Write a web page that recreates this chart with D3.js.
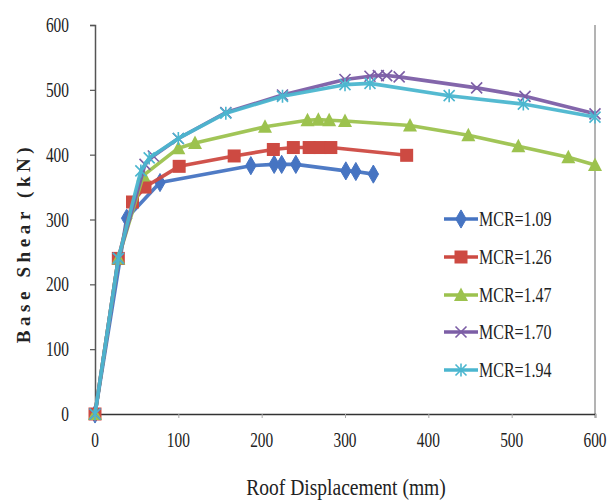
<!DOCTYPE html>
<html>
<head>
<meta charset="utf-8">
<script src="https://cdn.jsdelivr.net/npm/d3@7"></script>
<style>
  html, body { margin: 0; padding: 0; background: #fff; }
  svg { display: block; }
</style>
</head>
<body>
<svg id="chart" width="610" height="500"></svg>
<script>
// ---- data ----
const seriesNames = ["MCR=1.09", "MCR=1.26", "MCR=1.47", "MCR=1.70", "MCR=1.94"];

const disp109  = [0, 38, 78, 187, 215, 224, 241, 301, 313, 334];
const shear109 = [0, 302, 357, 383, 385, 385, 385, 375, 374, 370];

const disp126  = [0, 28, 45, 60, 101, 167, 214, 238, 257, 270, 283, 374];
const shear126 = [0, 240, 327, 350, 382, 398, 408, 411, 411, 411, 411, 399];

const disp147  = [0, 28, 58, 100, 120, 204, 255, 268, 281, 300, 378, 448, 508, 568, 600];
const shear147 = [0, 240, 368, 410, 418, 443, 453, 454, 453, 452, 445, 430, 413, 396, 384];

const disp170  = [0, 28, 60, 70, 100, 157, 225, 300, 330, 340, 350, 365, 458, 516, 600];
const shear170 = [0, 240, 385, 398, 425, 465, 492, 516, 521, 522, 522, 520, 503, 490, 463];

const disp194  = [0, 28, 55, 65, 100, 157, 225, 300, 330, 425, 514, 600];
const shear194 = [0, 240, 375, 395, 425, 464, 490, 508, 510, 491, 478, 458];

const xTicks = [0, 100, 200, 300, 400, 500, 600];
const yTicks = [0, 100, 200, 300, 400, 500, 600];

const colors  = ["#4674c2", "#cd4a42", "#9cc24e", "#7c5ea6", "#4bb6cf"];
const markers = ["diamond", "square", "triangle", "cross", "star"];

const seriesData = [
  [disp109, shear109],
  [disp126, shear126],
  [disp147, shear147],
  [disp170, shear170],
  [disp194, shear194]
].map(([xs, ys], i) => ({
  name: seriesNames[i],
  color: colors[i],
  marker: markers[i],
  points: xs.map((xv, j) => ({ x: xv, y: ys[j] }))
}));

// ---- layout ----
const svg = d3.select("#chart");
const plotL = 95, plotR = 595, plotT = 25, plotB = 414;
const x = d3.scaleLinear().domain([0, 600]).range([plotL, plotR]);
const y = d3.scaleLinear().domain([0, 600]).range([plotB, plotT]);
const serif = "'Liberation Serif', 'Times New Roman', serif";

// right border
svg.append("line")
  .attr("x1", plotR).attr("x2", plotR).attr("y1", plotT).attr("y2", plotB)
  .attr("stroke", "#9a9a9a").attr("stroke-width", 1.5);

// y axis
const yAxis = svg.append("g").attr("transform", `translate(${plotL},0)`)
  .call(d3.axisLeft(y).tickValues(yTicks).tickSize(5).tickFormat(""));
yAxis.select(".domain").attr("stroke", "#555").attr("stroke-width", 1.5);
yAxis.selectAll(".tick line").attr("stroke", "#555").attr("stroke-width", 1.2);

// x axis
const xAxis = svg.append("g").attr("transform", `translate(0,${plotB})`)
  .call(d3.axisBottom(x).tickValues(xTicks).tickSize(4).tickFormat(""));
xAxis.select(".domain").attr("stroke", "#333").attr("stroke-width", 1.6);
xAxis.selectAll(".tick line").attr("stroke", "#aaa").attr("stroke-width", 1);

// tick labels (condensed serif look)
const sx = 0.7;
yTicks.forEach(v => {
  svg.append("g").attr("transform", `translate(69,${y(v) + 7}) scale(${sx},1)`)
    .append("text").attr("text-anchor", "end")
    .attr("font-family", serif).attr("font-size", 22).attr("fill", "#222")
    .text(v);
});
xTicks.forEach(v => {
  svg.append("g").attr("transform", `translate(${x(v)},${447}) scale(${sx},1)`)
    .append("text").attr("text-anchor", "middle")
    .attr("font-family", serif).attr("font-size", 22).attr("fill", "#222")
    .text(v);
});

// axis titles
svg.append("g").attr("transform", "translate(346,495) scale(0.85,1)")
  .append("text").attr("text-anchor", "middle")
  .attr("font-family", serif).attr("font-size", 23).attr("fill", "#222")
  .text("Roof Displacement (mm)");

svg.append("text")
  .attr("transform", `translate(30,243) rotate(-90)`)
  .attr("text-anchor", "middle")
  .attr("font-family", serif).attr("font-size", 19).attr("font-weight", "bold")
  .attr("letter-spacing", 4.6).attr("fill", "#222")
  .text("Base Shear (kN)");

// ---- marker drawing ----
function drawMarker(g, type, color) {
  if (type === "diamond") {
    g.append("path").attr("d", d3.symbol(d3.symbolDiamond, 95)())
      .attr("fill", color).attr("stroke", color).attr("stroke-width", 1);
  } else if (type === "square") {
    g.append("rect").attr("x", -6.5).attr("y", -6.5).attr("width", 13).attr("height", 13)
      .attr("fill", color);
  } else if (type === "triangle") {
    g.append("path").attr("d", "M0,-7.5 L7,6 L-7,6 Z").attr("fill", color);
  } else if (type === "cross") {
    g.append("path").attr("d", "M-5.5,-5.5 L5.5,5.5 M-5.5,5.5 L5.5,-5.5")
      .attr("stroke", color).attr("stroke-width", 1.6).attr("fill", "none");
  } else if (type === "star") {
    g.append("path").attr("d", "M-5.5,-5.5 L5.5,5.5 M-5.5,5.5 L5.5,-5.5 M0,-6.5 L0,6.5")
      .attr("stroke", color).attr("stroke-width", 1.6).attr("fill", "none");
  }
}

// ---- series ----
const line = d3.line().x(d => x(d.x)).y(d => y(d.y));
seriesData.forEach(s => {
  const g = svg.append("g");
  g.append("path").datum(s.points)
    .attr("d", line).attr("fill", "none")
    .attr("stroke", s.color).attr("stroke-width", 3.6)
    .attr("stroke-linejoin", "round").attr("stroke-opacity", 0.95);
  g.selectAll("g.m").data(s.points).enter().append("g")
    .attr("class", "m")
    .attr("transform", d => `translate(${x(d.x)},${y(d.y)})`)
    .each(function () { drawMarker(d3.select(this), s.marker, s.color); });
});

// ---- legend ----
const legendY = [219, 257, 295, 332, 370];
seriesData.forEach((s, i) => {
  const g = svg.append("g").attr("transform", `translate(444,${legendY[i]})`);
  g.append("line").attr("x1", 0).attr("x2", 34).attr("y1", 0).attr("y2", 0)
    .attr("stroke", s.color).attr("stroke-width", 3.6);
  const mg = g.append("g").attr("transform", "translate(17,0)");
  drawMarker(mg, s.marker, s.color);
  g.append("g").attr("transform", `translate(35,7) scale(0.8,1)`)
    .append("text").attr("font-family", serif).attr("font-size", 20).attr("fill", "#222")
    .text(s.name);
});
</script>
</body>
</html>
